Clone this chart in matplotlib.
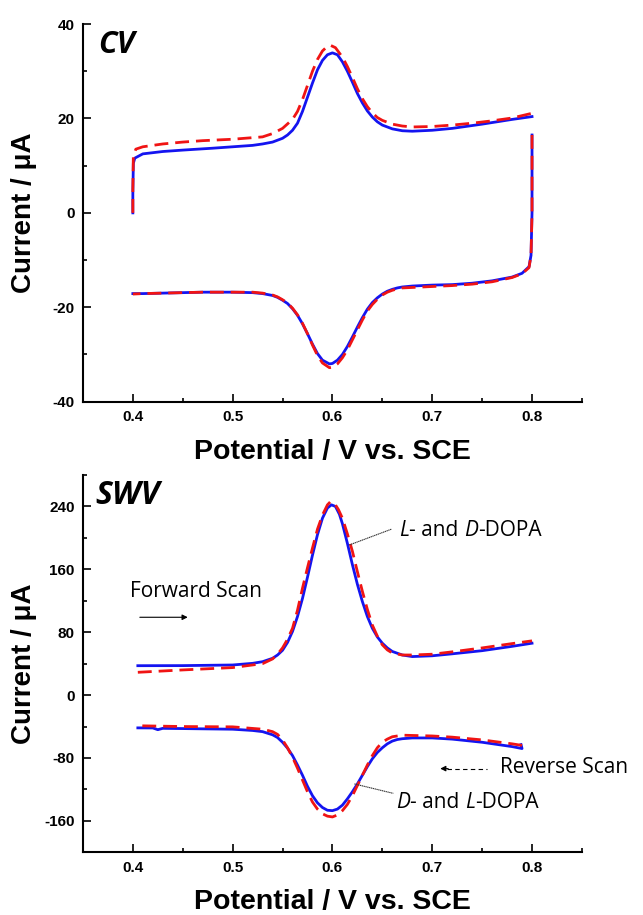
import matplotlib
matplotlib.use("Agg")
import matplotlib.pyplot as plt
from matplotlib.ticker import MultipleLocator

# ---------------- CV data ----------------
cv_blue_fwd_x = [0.400, 0.400, 0.4005, 0.402, 0.41, 0.43, 0.45, 0.48, 0.50, 0.52, 0.53, 0.54, 0.55, 0.555, 0.56, 0.565, 0.57, 0.575, 0.58, 0.585, 0.59, 0.595, 0.60, 0.605, 0.61, 0.615, 0.62, 0.625, 0.63, 0.635, 0.64, 0.645, 0.65, 0.66, 0.67, 0.68, 0.70, 0.72, 0.75, 0.78, 0.80]
cv_blue_fwd_y = [0.0, 4.0, 10.5, 11.6, 12.5, 13.0, 13.3, 13.7, 14.0, 14.3, 14.6, 15.0, 15.8, 16.5, 17.5, 19.0, 21.5, 24.5, 27.5, 30.3, 32.3, 33.5, 33.9, 33.5, 32.0, 30.0, 27.7, 25.3, 23.3, 21.6, 20.3, 19.3, 18.6, 17.8, 17.4, 17.3, 17.5, 17.9, 18.8, 19.8, 20.4]
cv_blue_rev_x = [0.800, 0.800, 0.799, 0.797, 0.79, 0.78, 0.76, 0.74, 0.72, 0.70, 0.68, 0.67, 0.665, 0.66, 0.655, 0.65, 0.645, 0.64, 0.635, 0.63, 0.625, 0.62, 0.615, 0.61, 0.605, 0.60, 0.597, 0.59, 0.585, 0.58, 0.575, 0.57, 0.565, 0.56, 0.555, 0.55, 0.545, 0.54, 0.53, 0.52, 0.50, 0.47, 0.45, 0.43, 0.41, 0.40]
cv_blue_rev_y = [16.5, 0.0, -9.0, -11.4, -12.8, -13.6, -14.4, -14.9, -15.2, -15.3, -15.5, -15.7, -15.9, -16.2, -16.6, -17.2, -18.0, -19.0, -20.4, -22.2, -24.2, -26.3, -28.3, -30.0, -31.2, -31.9, -32.0, -31.2, -29.8, -27.8, -25.6, -23.5, -21.7, -20.3, -19.2, -18.5, -17.9, -17.5, -17.1, -16.9, -16.8, -16.8, -16.9, -17.0, -17.1, -17.1]

cv_red_fwd_x = [0.400, 0.400, 0.4005, 0.403, 0.41, 0.43, 0.45, 0.47, 0.50, 0.53, 0.54, 0.55, 0.56, 0.565, 0.57, 0.575, 0.58, 0.585, 0.59, 0.595, 0.598, 0.603, 0.61, 0.615, 0.62, 0.625, 0.63, 0.635, 0.64, 0.645, 0.65, 0.66, 0.67, 0.68, 0.70, 0.72, 0.74, 0.76, 0.78, 0.80]
cv_red_fwd_y = [0.0, 5.0, 12.0, 13.5, 14.0, 14.6, 15.0, 15.3, 15.6, 16.1, 16.8, 17.9, 19.8, 21.5, 24.0, 27.0, 30.0, 32.5, 34.3, 35.3, 35.5, 35.0, 33.0, 31.0, 28.7, 26.3, 24.2, 22.5, 21.2, 20.2, 19.6, 18.8, 18.4, 18.2, 18.3, 18.6, 19.0, 19.5, 20.1, 21.1]
cv_red_rev_x = [0.800, 0.800, 0.799, 0.797, 0.79, 0.78, 0.76, 0.74, 0.72, 0.70, 0.68, 0.67, 0.665, 0.66, 0.655, 0.65, 0.645, 0.64, 0.635, 0.63, 0.625, 0.62, 0.615, 0.61, 0.605, 0.60, 0.597, 0.59, 0.585, 0.58, 0.575, 0.57, 0.565, 0.56, 0.555, 0.55, 0.545, 0.54, 0.53, 0.52, 0.50, 0.47, 0.45, 0.43, 0.41, 0.40]
cv_red_rev_y = [16.5, 0.0, -9.0, -11.6, -12.9, -13.7, -14.6, -15.1, -15.4, -15.6, -15.8, -15.9, -16.1, -16.4, -16.8, -17.4, -18.3, -19.4, -20.8, -22.7, -24.8, -26.9, -29.0, -30.7, -32.0, -32.7, -32.8, -31.8, -30.2, -28.0, -25.6, -23.4, -21.6, -20.2, -19.1, -18.4, -17.8, -17.4, -17.0, -16.8, -16.8, -16.8, -16.9, -17.0, -17.1, -17.2]

# ---------------- SWV data ----------------
swv_blue_fwd_x = [0.405, 0.45, 0.50, 0.52, 0.53, 0.54, 0.545, 0.55, 0.555, 0.56, 0.565, 0.57, 0.575, 0.58, 0.585, 0.59, 0.595, 0.599, 0.603, 0.607, 0.61, 0.615, 0.62, 0.625, 0.63, 0.635, 0.64, 0.645, 0.65, 0.655, 0.66, 0.67, 0.68, 0.70, 0.72, 0.75, 0.78, 0.80]
swv_blue_fwd_y = [37.4, 37.5, 38.3, 40.4, 42.5, 46.8, 51.0, 57.0, 67.0, 81.0, 100.0, 123.0, 150.0, 178.0, 204.0, 225.0, 238.0, 242.0, 240.0, 230.0, 218.0, 193.0, 166.0, 141.0, 119.0, 100.0, 85.0, 74.0, 66.0, 60.0, 55.5, 51.0, 49.0, 50.0, 52.5, 56.5, 62.0, 66.0]
swv_red_fwd_x = [0.405, 0.45, 0.50, 0.53, 0.54, 0.545, 0.55, 0.555, 0.56, 0.565, 0.57, 0.575, 0.58, 0.585, 0.59, 0.595, 0.598, 0.602, 0.606, 0.61, 0.615, 0.62, 0.625, 0.63, 0.635, 0.64, 0.645, 0.65, 0.655, 0.66, 0.67, 0.68, 0.70, 0.72, 0.75, 0.78, 0.80]
swv_red_fwd_y = [29.0, 32.0, 35.0, 40.0, 46.0, 52.0, 60.0, 71.0, 85.0, 108.0, 136.0, 162.0, 187.0, 211.0, 229.0, 242.0, 246.0, 244.0, 236.0, 225.0, 205.0, 183.0, 157.0, 132.0, 109.0, 89.0, 75.0, 64.0, 57.5, 53.5, 51.0, 51.0, 52.0, 55.0, 60.0, 65.5, 69.0]

swv_blue_rev_x = [0.789, 0.790, 0.78, 0.75, 0.72, 0.70, 0.68, 0.67, 0.665, 0.66, 0.655, 0.65, 0.645, 0.64, 0.635, 0.63, 0.625, 0.62, 0.615, 0.61, 0.605, 0.60, 0.595, 0.59, 0.585, 0.58, 0.575, 0.57, 0.565, 0.56, 0.555, 0.55, 0.545, 0.54, 0.53, 0.52, 0.50, 0.45, 0.43, 0.425, 0.42, 0.405]
swv_blue_rev_y = [-63.0, -68.0, -65.5, -60.0, -56.0, -54.5, -54.5, -55.5, -56.5, -58.5, -62.0, -67.0, -73.0, -81.0, -91.0, -102.0, -113.0, -123.0, -132.0, -140.0, -145.0, -147.0, -146.5, -143.0, -137.0, -128.0, -116.0, -102.0, -89.0, -77.0, -67.5, -60.0, -54.0, -50.5, -46.5, -45.0, -43.4, -42.6, -42.3, -44.0, -41.8, -41.7]
swv_red_rev_x = [0.79, 0.78, 0.75, 0.72, 0.70, 0.67, 0.66, 0.655, 0.65, 0.645, 0.64, 0.635, 0.63, 0.625, 0.62, 0.615, 0.61, 0.605, 0.60, 0.595, 0.59, 0.585, 0.58, 0.575, 0.57, 0.565, 0.56, 0.555, 0.55, 0.545, 0.54, 0.53, 0.50, 0.45, 0.405]
swv_red_rev_y = [-64.0, -62.0, -57.0, -53.5, -52.0, -51.0, -53.0, -56.0, -60.0, -67.0, -77.0, -89.0, -102.0, -115.0, -128.0, -139.0, -147.0, -152.5, -155.0, -154.0, -151.0, -145.0, -136.0, -123.0, -108.0, -93.0, -79.0, -67.0, -57.0, -50.0, -46.5, -43.4, -40.4, -40.0, -39.0]

cv_yticks = [-40, -20, 0, 20, 40]
swv_yticks = [-160, -80, 0, 80, 160, 240]
xticks = [0.4, 0.5, 0.6, 0.7, 0.8]

BLUE = "#1414f0"
RED = "#f01414"
AX_FONT = "Liberation Sans"
NOTE_FONT = "Open Sans"
NOTE_SIZE = 15

fig = plt.figure(figsize=(6.43, 9.15), dpi=100)
ax1 = fig.add_axes([0.129, 0.561, 0.776, 0.4127])
ax2 = fig.add_axes([0.129, 0.0685, 0.776, 0.4124])


def style_axes(ax, ylim, yticks, yminor):
    ax.set_xlim(0.35, 0.85)
    ax.set_ylim(*ylim)
    ax.set_xticks(xticks)
    ax.set_xticklabels([f"{t:.1f}" for t in xticks])
    ax.set_yticks(yticks)
    ax.set_yticklabels([str(t) for t in yticks])
    ax.xaxis.set_minor_locator(MultipleLocator(0.05))
    ax.yaxis.set_minor_locator(MultipleLocator(yminor))
    for s in ["top", "right"]:
        ax.spines[s].set_visible(False)
    for s in ["left", "bottom"]:
        ax.spines[s].set_linewidth(1.5)
    ax.tick_params(which="major", direction="in", length=6, width=1.2, pad=6)
    ax.tick_params(which="minor", direction="in", length=3, width=1.2)
    for lab in ax.get_xticklabels() + ax.get_yticklabels():
        lab.set_fontfamily(AX_FONT)
        lab.set_fontweight("bold")
        lab.set_fontsize(11)
    ax.set_xlabel("Potential / V vs. SCE", fontfamily=AX_FONT, fontweight="bold", fontsize=20.5)
    ax.set_ylabel("Current / \u03bcA", fontfamily=AX_FONT, fontweight="bold", fontsize=20)
    ax.xaxis.set_label_coords(0.5, -0.098)
    ax.yaxis.set_label_coords(-0.093, 0.5)
    ax.patch.set_alpha(0)


lw = 2.0
dash = (0, (5, 2.5))
# CV
ax1.plot(cv_blue_fwd_x, cv_blue_fwd_y, color=BLUE, lw=lw)
ax1.plot(cv_blue_rev_x, cv_blue_rev_y, color=BLUE, lw=lw)
ax1.plot(cv_red_fwd_x, cv_red_fwd_y, color=RED, lw=lw, ls=dash)
ax1.plot(cv_red_rev_x, cv_red_rev_y, color=RED, lw=lw, ls=dash)
style_axes(ax1, (-40, 40), cv_yticks, 10)
ax1.text(0.03, 0.985, "CV", transform=ax1.transAxes, fontfamily=NOTE_FONT,
         fontweight="bold", fontstyle="italic", fontsize=22, va="top", ha="left")

# SWV
ax2.plot(swv_blue_fwd_x, swv_blue_fwd_y, color=BLUE, lw=lw)
ax2.plot(swv_blue_rev_x, swv_blue_rev_y, color=BLUE, lw=lw)
ax2.plot(swv_red_fwd_x, swv_red_fwd_y, color=RED, lw=lw, ls=dash)
ax2.plot(swv_red_rev_x, swv_red_rev_y, color=RED, lw=lw, ls=dash)
style_axes(ax2, (-200, 280), swv_yticks, 40)
ax2.text(0.024, 0.99, "SWV", transform=ax2.transAxes, fontfamily=NOTE_FONT,
         fontweight="bold", fontstyle="italic", fontsize=23, va="top", ha="left")

note_kw = dict(fontfamily=NOTE_FONT, fontsize=NOTE_SIZE, va="center", ha="left")

fig.canvas.draw()
renderer = fig.canvas.get_renderer()


def mixed_text(ax, x, y, parts):
    # draw text pieces one after another, italic where flagged
    cur = ax.transData.transform((x, y))
    for txt, ital in parts:
        t = ax.text(cur[0], cur[1], txt, transform=None, fontfamily=NOTE_FONT,
                    fontsize=NOTE_SIZE, va="center", ha="left",
                    fontstyle="italic" if ital else "normal")
        bb = t.get_window_extent(renderer=renderer)
        cur = (bb.x1, cur[1])


mixed_text(ax2, 0.667, 210, [("L", True), ("- and ", False), ("D", True), ("-DOPA", False)])
mixed_text(ax2, 0.664, -136, [("D", True), ("- and ", False), ("L", True), ("-DOPA", False)])
ax2.plot([0.617, 0.659], [191, 211], color="#333333", lw=0.8, ls=(0, (1.2, 0.5)))
ax2.plot([0.622, 0.661], [-113, -125], color="#333333", lw=0.8, ls=(0, (1.2, 0.5)))

ax2.text(0.397, 132, "Forward Scan", **note_kw)
ax2.annotate("", xy=(0.455, 99), xytext=(0.407, 99),
             arrowprops=dict(arrowstyle="-|>", lw=0.8, color="black", mutation_scale=8,
                             shrinkA=0, shrinkB=0))
ax2.text(0.768, -92, "Reverse Scan", **note_kw)
ax2.plot([0.715, 0.755], [-93.5, -93.5], color="black", lw=0.8, ls=(0, (4, 3)))
ax2.annotate("", xy=(0.708, -93.5), xytext=(0.716, -93.5),
             arrowprops=dict(arrowstyle="-|>", lw=0.8, color="black", mutation_scale=8,
                             shrinkA=0, shrinkB=0))

fig.savefig("out.png", dpi=100)
